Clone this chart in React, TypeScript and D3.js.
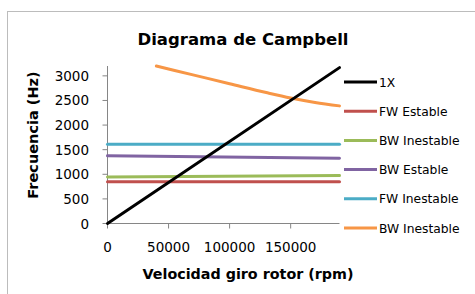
import React, { useEffect, useRef } from "react";
import * as d3 from "d3";

// rpm values where each series is sampled
const rpm1X = [0, 190000];
const val1X = [0, 3167];

const rpmFlat = [0, 190000];
const fwEstable = [848, 848];
const bwInestableLow = [945, 975];
const bwEstable = [1375, 1328];
const fwInestable = [1610, 1610];

const rpmOrange = [40000, 70000, 100000, 130000, 150000, 170000, 190000];
const bwInestableHigh = [3200, 3020, 2840, 2660, 2550, 2460, 2390];

const seriesNames = ["1X", "FW Estable", "BW Inestable", "BW Estable", "FW Inestable", "BW Inestable"];
const seriesColors = ["#000000", "#c0504d", "#9bbb59", "#8064a2", "#4bacc6", "#f79646"];

const xTicks = [0, 50000, 100000, 150000];
const yTicks = [0, 500, 1000, 1500, 2000, 2500, 3000];

const App = () => {
  const svgRef = useRef<SVGSVGElement>(null);

  useEffect(() => {
    const width = 475;
    const height = 294;

    const svg = d3.select(svgRef.current);
    svg.selectAll("*").remove();
    svg.attr("width", width).attr("height", height);

    // chart frame
    svg.append("rect")
      .attr("x", 7.5).attr("y", 11.5)
      .attr("width", 520).attr("height", 320)
      .attr("fill", "#fff")
      .attr("stroke", "#bcbcbc");

    const x = d3.scaleLinear().domain([0, 190000]).range([107.5, 339.5]);
    const y = d3.scaleLinear().domain([0, 3200]).range([223.5, 66]);

    const font = "'DejaVu Sans', sans-serif";

    // title
    svg.append("text")
      .attr("x", 243).attr("y", 45)
      .attr("text-anchor", "middle")
      .style("font-family", font)
      .style("font-weight", "bold")
      .style("font-size", "16.5px")
      .text("Diagrama de Campbell");

    // axes
    const axisColor = "#868686";
    svg.append("line")
      .attr("x1", x(0)).attr("x2", x(0))
      .attr("y1", y(3200)).attr("y2", y(0))
      .attr("stroke", axisColor);
    svg.append("line")
      .attr("x1", x(0)).attr("x2", x(190000))
      .attr("y1", y(0)).attr("y2", y(0))
      .attr("stroke", axisColor);

    yTicks.forEach(t => {
      svg.append("line")
        .attr("x1", x(0) - 5).attr("x2", x(0))
        .attr("y1", y(t)).attr("y2", y(t))
        .attr("stroke", axisColor);
      svg.append("text")
        .attr("x", 89).attr("y", y(t) + 5)
        .attr("text-anchor", "end")
        .style("font-family", font)
        .style("font-size", "13.5px")
        .text(t);
    });

    xTicks.forEach(t => {
      svg.append("line")
        .attr("x1", x(t)).attr("x2", x(t))
        .attr("y1", y(0)).attr("y2", y(0) + 5)
        .attr("stroke", axisColor);
      svg.append("text")
        .attr("x", x(t)).attr("y", 252)
        .attr("text-anchor", "middle")
        .style("font-family", font)
        .style("font-size", "13.5px")
        .text(t);
    });

    // axis titles
    svg.append("text")
      .attr("x", 248).attr("y", 279)
      .attr("text-anchor", "middle")
      .style("font-family", font)
      .style("font-weight", "bold")
      .style("font-size", "14.3px")
      .text("Velocidad giro rotor (rpm)");

    svg.append("text")
      .attr("transform", `translate(38, 135) rotate(-90)`)
      .attr("text-anchor", "middle")
      .style("font-family", font)
      .style("font-weight", "bold")
      .style("font-size", "14.5px")
      .text("Frecuencia (Hz)");

    // series
    const series = [
      { xs: rpm1X, ys: val1X },
      { xs: rpmFlat, ys: fwEstable },
      { xs: rpmFlat, ys: bwInestableLow },
      { xs: rpmFlat, ys: bwEstable },
      { xs: rpmFlat, ys: fwInestable },
      { xs: rpmOrange, ys: bwInestableHigh }
    ];

    const line = d3.line<[number, number]>()
      .x(d => x(d[0]))
      .y(d => y(d[1]))
      .curve(d3.curveMonotoneX);

    // draw in reverse so 1X sits on top
    series.map((s, i) => ({ ...s, i })).reverse().forEach(s => {
      svg.append("path")
        .attr("d", line(s.xs.map((v, k) => [v, s.ys[k]] as [number, number])))
        .attr("fill", "none")
        .attr("stroke", seriesColors[s.i])
        .attr("stroke-width", 3)
        .attr("stroke-linecap", "round");
    });

    // legend
    const legend = svg.append("g").attr("transform", "translate(344, 82)");
    seriesNames.forEach((name, i) => {
      const row = legend.append("g").attr("transform", `translate(0, ${i * 29.2})`);
      row.append("line")
        .attr("x1", 0).attr("x2", 33)
        .attr("y1", 0).attr("y2", 0)
        .attr("stroke", seriesColors[i])
        .attr("stroke-width", 3);
      row.append("text")
        .attr("x", 35).attr("y", 4.5)
        .style("font-family", font)
        .style("font-size", "12.3px")
        .text(name);
    });
  }, []);

  return (
    <div style={{ position: "absolute", left: 0, top: 0 }}>
      <svg ref={svgRef}></svg>
    </div>
  );
};

export default App;
